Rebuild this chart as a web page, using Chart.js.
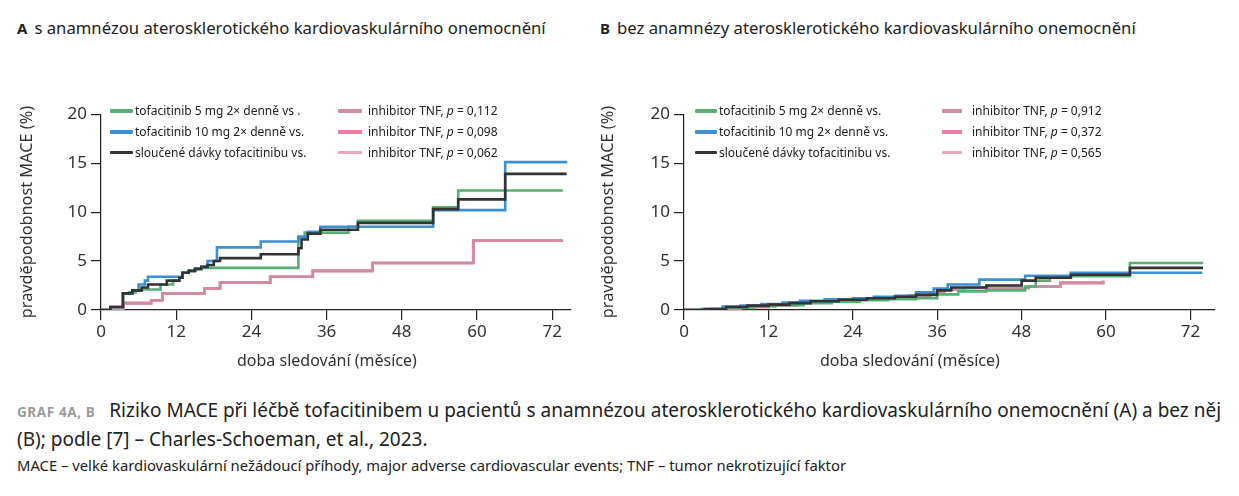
<!DOCTYPE html>
<html>
<head>
<meta charset="utf-8">
<script src="https://cdn.jsdelivr.net/npm/chart.js@4.4.1/dist/chart.umd.min.js"></script>
<style>
body { margin: 0; background: #fff; font-family: "Noto Sans", sans-serif; color: #222; }
#page { position: relative; width: 1239px; height: 496px; overflow: hidden; }
.abs { position: absolute; white-space: nowrap; }
.ttl { font-size: 16.7px; line-height: 22px; top: 17px; }
.ttl b { margin-right: 7px; font-size: 15px; }
.leg { position: absolute; font-size: 12px; line-height: 21px; top: 100px; }
.leg div { display: flex; align-items: center; height: 21px; white-space: nowrap; }
.leg span.sw { display: inline-block; border-radius: 1px; flex: none; }
.xt { font-size: 16px; line-height: 22px; top: 349px; color: #333; }
canvas { position: absolute; }
.cap1 { left: 17px; top: 397px; font-size: 19px; line-height: 27px; }
.cap1 .g { font-size: 13.5px; font-weight: bold; color: #9b9b9b; letter-spacing: 0.6px; margin-right: 14px; }
.cap3 { left: 17px; top: 455px; font-size: 14.8px; line-height: 20px; }
</style>
</head>
<body>
<div id="page">
  <div class="abs ttl" style="left:17px"><b>A</b>s anamnézou aterosklerotického kardiovaskulárního onemocnění</div>
  <div class="abs ttl" style="left:600px"><b>B</b>bez anamnézy aterosklerotického kardiovaskulárního onemocnění</div>

  <canvas id="chartA" width="590" height="275" style="left:0;top:100px"></canvas>
  <canvas id="chartB" width="650" height="275" style="left:580px;top:100px"></canvas>

  <div class="abs xt" style="left:237px">doba sledování (měsíce)</div>
  <div class="abs xt" style="left:820px">doba sledování (měsíce)</div>

  <div id="legA1" class="leg" style="left:110px"></div>
  <div id="legA2" class="leg" style="left:338px"></div>
  <div id="legB1" class="leg" style="left:695px"></div>
  <div id="legB2" class="leg" style="left:942px"></div>

  <div class="abs cap1"><span class="g">GRAF 4A, B</span>Riziko MACE při léčbě tofacitinibem u pacientů s anamnézou aterosklerotického kardiovaskulárního onemocnění (A) a bez něj<br>(B); podle [7] – Charles-Schoeman, et al., 2023.</div>
  <div class="abs cap3">MACE – velké kardiovaskulární nežádoucí příhody, major adverse cardiovascular events; TNF – tumor nekrotizující faktor</div>
</div>

<script>
// [month, cumulative MACE %]
const tofa5A = [[0,0],[1.5,0.3],[3.5,1.7],[4.5,1.8],[5.5,2.0],[6.5,2.1],[9.5,2.6],[11.5,3.0],[12.5,3.3],[13,3.8],[14,4.0],[15,4.2],[16,4.3],[31.5,7.4],[32.5,7.9],[39.5,8.5],[41,9.1],[53,10.5],[57,12.2],[73.7,12.2]];
const tofa10A = [[0,0],[1.5,0.3],[3.5,1.7],[5,2.0],[6,2.6],[7,3.0],[7.5,3.4],[12.5,3.4],[13,3.8],[14,4.0],[15,4.2],[16,4.4],[17,5.0],[18.5,6.4],[25.5,7.0],[31.5,7.5],[33,8.0],[35,8.5],[53,10.2],[64.5,15.1],[74.4,15.1]];
const combA = [[0,0],[1.5,0.3],[3.5,1.7],[5,2.0],[6.5,2.3],[7.5,2.6],[10.5,3.0],[12.5,3.3],[13,3.8],[14,4.0],[15,4.2],[16,4.4],[17,4.6],[18,5.0],[19,5.3],[25.5,5.7],[31.5,6.3],[32,7.2],[33,7.8],[35,8.2],[41,8.9],[53,10.3],[57,11.3],[64.5,13.9],[74.3,13.9]];
const tnfA = [[0,0],[3.6,0.7],[8,1.0],[9.8,1.7],[16.5,2.2],[19,2.8],[27,3.4],[33.8,4.0],[43.3,4.8],[59.4,7.1],[73.7,7.1]];

const tofa5B = [[0,0],[3,0.05],[6,0.2],[10,0.35],[13,0.5],[17,0.7],[21,0.85],[25,1.0],[29,1.1],[33,1.2],[36,1.6],[39,1.9],[43,2.0],[48.5,2.4],[50,3.0],[52,3.3],[55,3.45],[63.4,4.8],[73.8,4.8]];
const tofa10B = [[0,0],[2.5,0.1],[5.5,0.35],[8,0.45],[11,0.6],[14,0.75],[16.5,0.95],[20,1.1],[24,1.2],[27,1.35],[30,1.45],[33,1.8],[35.5,2.2],[37.5,2.6],[42,3.1],[48.5,3.5],[55,3.8],[73.7,3.8]];
const combB = [[0,0],[3,0.1],[6,0.3],[9,0.45],[12,0.55],[15,0.7],[18,0.9],[22,1.05],[26,1.2],[30,1.35],[33,1.55],[36,2.0],[38,2.3],[43,2.5],[48,3.0],[50,3.3],[55,3.6],[63.4,4.3],[73.8,4.3]];
const tnfB = [[0,0],[4,0.1],[8,0.3],[12,0.5],[16,0.75],[20,0.9],[24,1.1],[28,1.2],[32,1.5],[35,1.8],[37,2.1],[40,2.25],[49,2.4],[53.5,2.77],[59.6,3.0]];

const tofaLabelsA = ["tofacitinib 5 mg 2× denně vs .", "tofacitinib 10 mg 2× denně vs.", "sloučené dávky tofacitinibu vs."];
const tofaLabelsB = ["tofacitinib 5 mg 2× denně vs.", "tofacitinib 10 mg 2× denně vs.", "sloučené dávky tofacitinibu vs."];
const pValuesA = ["0,112", "0,098", "0,062"];
const pValuesB = ["0,912", "0,372", "0,565"];
const xTicks = [0, 12, 24, 36, 48, 60, 72];
const yTicks = [0, 5, 10, 15, 20];

const tofaColors = ["#55b073", "#3b8fd3", "#333333"];
const tnfColors = ["#d28aa2", "#ec7ca3", "#eaa6ba"];
const tofaWidths = [4, 4, 3];
const tnfWidths = [4, 4, 2.5];

const toXY = arr => arr.map(([x, y]) => ({x, y}));

function makeDatasets(tofa, tnf) {
    const sets = [];
    // tnf lines sit underneath the tofacitinib ones
    tnf.forEach((d, i) => sets.push({
        data: toXY(d), borderColor: tnfColors[i], borderWidth: 2.6, order: 10 + i
    }));
    tofa.forEach((d, i) => sets.push({
        data: toXY(d), borderColor: tofaColors[i], borderWidth: 2.6, order: 3 - i
    }));
    return sets.map(s => ({...s, stepped: true, pointRadius: 0, fill: false, tension: 0}));
}

function makeChart(id, datasets, xMax, axisWidth, titlePad, padRight) {
    const font = {family: "'Noto Sans', sans-serif", size: 17};
    new Chart(document.getElementById(id), {
        type: 'line',
        data: {datasets},
        options: {
            responsive: false,
            animation: false,
            layout: {padding: {top: 14, right: padRight, left: 0, bottom: 0}},
            plugins: {legend: {display: false}, tooltip: {enabled: false}},
            scales: {
                x: {
                    type: 'linear', min: 0, max: xMax,
                    afterBuildTicks: s => { s.ticks = xTicks.map(v => ({value: v})); },
                    afterFit: s => { s.height = 65; },
                    border: {color: '#222', width: 1.2},
                    grid: {drawOnChartArea: false, tickLength: 10, color: '#222', lineWidth: 1.2},
                    ticks: {color: '#333', font, padding: 2, maxRotation: 0}
                },
                y: {
                    min: 0, max: 20,
                    afterBuildTicks: s => { s.ticks = yTicks.map(v => ({value: v})); },
                    afterFit: s => { s.width = axisWidth; },
                    border: {color: '#222', width: 1.2},
                    grid: {drawOnChartArea: false, tickLength: 10, color: '#222', lineWidth: 1.2},
                    ticks: {color: '#333', font, padding: 4},
                    title: {display: true, text: 'pravděpodobnost MACE (%)', color: '#333', font: {...font, size: 16.3}, padding: {top: titlePad, bottom: 0}}
                }
            }
        }
    });
}

function fillLegend(id, labels, colors, widths, swW, gap) {
    const el = document.getElementById(id);
    labels.forEach((lab, i) => {
        const row = document.createElement('div');
        row.innerHTML = `<span class="sw" style="width:${swW}px;height:${widths[i]}px;background:${colors[i]};margin-right:${gap}px"></span><span>${lab}</span>`;
        el.appendChild(row);
    });
}

makeChart('chartA', makeDatasets([tofa5A, tofa10A, combA], [tnfA, tnfA, tnfA]), 75, 101, 18, 19);
makeChart('chartB', makeDatasets([tofa5B, tofa10B, combB], [tnfB, tnfB, tnfB]), 75.5, 104, 19, 15);

const tnfLabel = p => `inhibitor TNF, <i>p</i> = ${p}`;
fillLegend('legA1', tofaLabelsA, tofaColors, tofaWidths, 23, 2);
fillLegend('legA2', pValuesA.map(tnfLabel), tnfColors, tnfWidths, 24, 6);
fillLegend('legB1', tofaLabelsB, tofaColors, tofaWidths, 22, 2);
fillLegend('legB2', pValuesB.map(tnfLabel), tnfColors, tnfWidths, 20, 10);
</script>
</body>
</html>
